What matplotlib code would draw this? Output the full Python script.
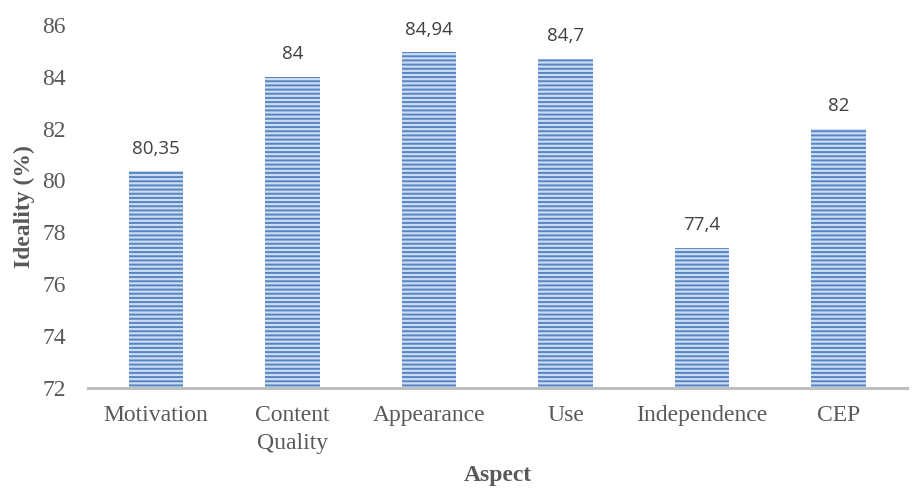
import matplotlib
matplotlib.use('Agg')
import matplotlib.pyplot as plt

# Données
aspects = ['Motivation', 'Content\nQuality', 'Appearance', 'Use', 'Independence', 'CEP']
ideality = [80.35, 84, 84.94, 84.7, 77.4, 82]
labels = ['80,35', '84', '84,94', '84,7', '77,4', '82']
yticks = [72, 74, 76, 78, 80, 82, 84, 86]

plt.rcParams['hatch.linewidth'] = 1.4

fig = plt.figure(figsize=(9.16, 4.88), dpi=100)
ax = fig.add_axes([0.096, 0.205, 0.894, 0.744])

x = range(len(aspects))
bars = ax.bar(x, [v - 72 for v in ideality], bottom=72, width=0.4,
              color='#cddcf0', edgecolor='#5585c5', hatch='----', linewidth=0)

for bar, lab in zip(bars, labels):
    ax.text(bar.get_x() + bar.get_width() / 2, bar.get_y() + bar.get_height() + 0.52, lab,
            ha='center', va='bottom', fontsize=13.5, color='#404040', family='Open Sans')

ax.set_ylim(72, 86)
ax.set_xlim(-0.5, len(aspects) - 0.5)
ax.set_yticks(yticks)
ax.set_xticks(list(x))
ax.set_xticklabels(aspects, fontsize=17, family='Liberation Serif', color='#595959', linespacing=1.45)
ax.set_yticklabels([str(t) for t in yticks], fontsize=17, family='Liberation Serif', color='#595959')
ax.tick_params(axis='x', length=0, pad=12)
ax.tick_params(axis='y', length=0, pad=16)

for s in ['top', 'right', 'left']:
    ax.spines[s].set_visible(False)
ax.spines['bottom'].set_color('#bfbfbf')
ax.spines['bottom'].set_linewidth(2.2)

ax.set_ylabel('Ideality (%)', fontsize=17, fontweight='bold', family='Liberation Serif', color='#595959', labelpad=5)
ax.set_xlabel('Aspect', fontsize=17, fontweight='bold', family='Liberation Serif', color='#595959', labelpad=8)

fig.savefig('out.png', dpi=100)
